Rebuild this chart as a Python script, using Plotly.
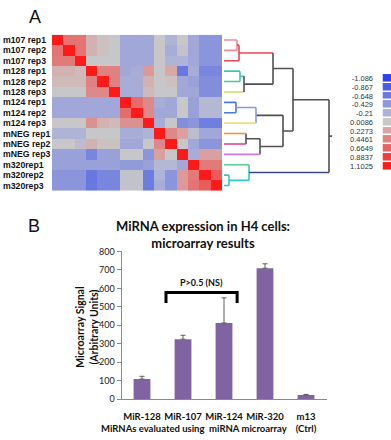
import plotly.graph_objects as go

# ---------------- Data: panel A ----------------
row_labels = ["m107 rep1", "m107 rep2", "m107 rep3",
              "m128 rep1", "m128 rep2", "m128 rep3",
              "m124 rep1", "m124 rep2", "m124 rep3",
              "mNEG rep1", "mNEG rep2", "mNEG rep3",
              "m320rep1", "m320rep2", "m320rep3"]

corr = [
    [1.10, 0.55, 0.55, 0.15, 0.05, 0.00, -0.30, -0.30, -0.30, 0.00, -0.20, 0.00, -0.30, -0.45, -0.45],
    [0.55, 1.10, 0.55, 0.15, 0.05, 0.00, -0.30, -0.30, -0.30, 0.00, -0.25, -0.05, -0.30, -0.45, -0.45],
    [0.50, 0.50, 1.10, 0.00, 0.00, 0.00, -0.30, -0.30, -0.30, 0.00, -0.20, -0.20, -0.30, -0.45, -0.45],
    [0.15, 0.15, 0.10, 1.10, 0.45, 0.45, -0.30, -0.25, 0.30, 0.00, 0.20, -0.65, -0.25, -0.55, -0.55],
    [0.10, 0.10, 0.10, 0.45, 1.10, 0.45, -0.25, -0.25, 0.15, 0.00, 0.05, -0.30, -0.35, -0.50, -0.50],
    [0.00, 0.00, 0.00, 0.40, 0.40, 1.10, -0.25, -0.25, 0.10, 0.00, 0.00, -0.30, -0.30, -0.50, -0.50],
    [-0.30, -0.30, -0.30, -0.30, -0.30, -0.30, 1.10, 0.60, 0.40, -0.25, -0.30, 0.00, -0.35, -0.15, -0.15],
    [-0.30, -0.30, -0.30, -0.30, -0.30, -0.30, 0.60, 1.10, 0.40, -0.30, -0.30, 0.00, -0.35, -0.15, -0.15],
    [0.00, 0.00, 0.00, 0.35, 0.15, 0.10, 0.35, 0.35, 1.10, -0.25, 0.00, -0.50, -0.45, -0.60, -0.60],
    [-0.20, -0.20, -0.20, 0.00, 0.00, 0.00, -0.25, -0.25, -0.20, 1.10, 0.40, 0.25, -0.10, -0.30, -0.30],
    [0.00, 0.00, -0.10, 0.15, 0.05, 0.05, -0.30, -0.30, 0.00, 0.40, 1.10, 0.00, -0.30, -0.45, -0.45],
    [-0.35, -0.35, -0.35, -0.55, -0.35, -0.35, 0.00, 0.00, -0.45, 0.25, 0.00, 1.10, -0.25, 0.25, 0.25],
    [-0.35, -0.35, -0.35, -0.35, -0.35, -0.35, -0.40, -0.40, -0.35, -0.15, -0.15, -0.30, 1.10, 0.50, 0.50],
    [-0.45, -0.45, -0.45, -0.65, -0.55, -0.55, -0.05, -0.05, -0.62, -0.20, -0.45, 0.30, 0.50, 1.10, 0.70],
    [-0.45, -0.45, -0.45, -0.65, -0.55, -0.55, -0.05, -0.05, -0.62, -0.25, -0.45, 0.30, 0.55, 0.70, 1.10],
]

legend_values = [-1.086, -0.867, -0.648, -0.429, -0.21, 0.0086, 0.2273, 0.4461, 0.6649, 0.8837, 1.1025]
legend_labels = ["-1.086", "-0.867", "-0.648", "-0.429", "-0.21", "0.0086",
                 "0.2273", "0.4461", "0.6649", "0.8837", "1.1025"]
legend_colors = ["#2b3ff5", "#4a5ce8", "#6878e0", "#8e98da", "#aeb2d6", "#c8c8c8",
                 "#d8a4a4", "#e08282", "#e86262", "#f23c3c", "#ff1a1a"]

# Dendrogram linkage: (left child, right child, height, left colour, right colour, vertical colour)
# Leaves are 0..14, merged nodes get ids 15, 16, ...
DK = "#505050"
linkage = [
    (0, 1, 13, "#f4889a", "#f4889a", "#f4889a"),    # 15
    (15, 2, 15, "#ee4455", "#ee4455", "#ee4455"),   # 16
    (3, 4, 16, "#3cc8b4", "#3cc8b4", "#3cc8b4"),    # 17
    (17, 5, 20, "#3cc8b4", "#d8d860", DK),          # 18
    (16, 18, 49, "#ee4455", DK, DK),                # 19
    (6, 7, 12, "#4a78e8", "#4a78e8", "#4a78e8"),    # 20
    (20, 8, 32, "#8898e0", "#f0e070", "#8898e0"),   # 21
    (9, 10, 22, "#f0902a", "#e03c8c", DK),          # 22
    (22, 11, 36, DK, "#c878e8", DK),                # 23
    (21, 23, 59, DK, DK, DK),                       # 24
    (19, 24, 69, DK, DK, DK),                       # 25
    (13, 14, 5, "#30c8c8", "#30c8c8", "#30c8c8"),   # 26
    (12, 26, 25, "#60c890", "#30c8c8", "#30c8c8"),  # 27
    (25, 27, 105, DK, "#3a4a80", DK),               # 28
]
root_stub = 3

# ---------------- Data: panel B ----------------
bar_cats = ["MiR-128", "MiR-107", "MiR-124", "MiR-320", "m13<br>(Ctrl)"]
bar_vals = [109, 325, 413, 709, 23]
bar_err = [15, 21, 136, 24, 3]
bracket_from, bracket_to = 0.585, 2.32
bracket_low, bracket_high = 521, 577

# ---------------- helpers ----------------
W, H = 391, 440
def px_x(a, b):
    return [a / W, b / W]
def px_y(top, bottom):
    return [1 - bottom / H, 1 - top / H]

n = len(row_labels)
cs = [[i / (len(legend_colors) - 1), c] for i, c in enumerate(legend_colors)]
zmin, zmax = legend_values[0], legend_values[-1]

fig = go.Figure()

# heatmap
fig.add_trace(go.Heatmap(z=corr, x=list(range(n)), y=list(range(n)), colorscale=cs,
                         zmin=zmin, zmax=zmax, showscale=False, hoverinfo="z",
                         xaxis="x", yaxis="y"))

# dendrogram
ypos = {i: float(i) for i in range(n)}
hpos = {i: 0.0 for i in range(n)}
segs = {}
for k, (a, b, h, ca, cb, cv) in enumerate(linkage):
    node = n + k
    for child, col in ((a, ca), (b, cb)):
        segs.setdefault(col, []).extend([(hpos[child], ypos[child]), (h, ypos[child]), None])
    segs.setdefault(cv, []).extend([(h, ypos[a]), (h, ypos[b]), None])
    ypos[node] = (ypos[a] + ypos[b]) / 2
    hpos[node] = h
root = n + len(linkage) - 1
segs.setdefault(DK, []).extend([(hpos[root], ypos[root]), (hpos[root] + root_stub, ypos[root]), None])
for col, pts in segs.items():
    xs = [p[0] if p else None for p in pts]
    ys = [p[1] if p else None for p in pts]
    fig.add_trace(go.Scatter(x=xs, y=ys, mode="lines", line=dict(color=col, width=1.6),
                             hoverinfo="skip", showlegend=False, xaxis="x2", yaxis="y2"))

# colour key
fig.add_trace(go.Heatmap(z=[[v] for v in legend_values], x=[0], y=list(range(len(legend_values))),
                         colorscale=cs, zmin=zmin, zmax=zmax, showscale=False, ygap=1.5,
                         xaxis="x3", yaxis="y3"))

# bars
fig.add_trace(go.Bar(x=list(range(len(bar_cats))), y=bar_vals, width=0.41,
                     marker=dict(color="#8064a2", line=dict(width=0)),
                     error_y=dict(type="data", array=bar_err, arrayminus=[0] * len(bar_err),
                                  symmetric=False, color="#606060", thickness=1, width=2.5),
                     showlegend=False, xaxis="x4", yaxis="y4"))

hid = dict(showgrid=False, zeroline=False, showticklabels=False, ticks="", showline=False)
fig.update_layout(
    width=W, height=H, margin=dict(l=0, r=0, t=0, b=0),
    paper_bgcolor="white", plot_bgcolor="white", showlegend=False,
    xaxis=dict(domain=px_x(52, 222), range=[-0.5, n - 0.5], anchor="y", **hid),
    yaxis=dict(domain=px_y(29.5, 189.5), range=[n - 0.5, -0.5], anchor="x", **hid),
    xaxis2=dict(domain=px_x(222, 345), range=[-2, 121], anchor="y2", **hid),
    yaxis2=dict(domain=px_y(29.5, 189.5), range=[n - 0.5, -0.5], anchor="x2", **hid),
    xaxis3=dict(domain=px_x(382.5, 391), range=[-0.5, 0.5], anchor="y3", **hid),
    yaxis3=dict(domain=px_y(69.8, 168.8), range=[len(legend_values) - 0.5, -0.5], anchor="x3",
                showgrid=False, zeroline=False, showline=False,
                tickvals=list(range(len(legend_values))), ticktext=legend_labels,
                ticks="outside", ticklen=7, tickcolor="rgba(0,0,0,0)",
                tickfont=dict(family="Liberation Sans, Arial", size=7.5, color="#333")),
    xaxis4=dict(domain=px_x(121.5, 326.5), range=[-0.5, len(bar_cats) - 0.5], anchor="y4",
                tickvals=list(range(len(bar_cats))), ticktext=bar_cats, tickangle=0,
                showgrid=False, zeroline=False, showline=True, linecolor="#8a8a8a", linewidth=1,
                ticks="outside", ticklen=8, tickcolor="rgba(0,0,0,0)",
                tickfont=dict(family="Lato", size=9.5, color="#111", weight="bold")),
    yaxis4=dict(domain=px_y(251.7, 403.3), range=[0, 800], tickvals=list(range(0, 801, 100)), anchor="x4",
                showgrid=False, zeroline=False, showline=True, linecolor="#8a8a8a", linewidth=1,
                ticks="outside", ticklen=4, tickcolor="#8a8a8a",
                tickfont=dict(family="Lato", size=9, color="#222")),
)

ann = []
for i, lab in enumerate(row_labels):
    ann.append(dict(text=lab, xref="paper", yref="y", x=1 / W, y=i, xanchor="left", yanchor="middle",
                    showarrow=False, font=dict(family="Liberation Sans, Arial", size=8.7, color="#111", weight="bold")))
ann.append(dict(text="A", xref="paper", yref="paper", x=27 / W, y=1 - 11.5 / H, xanchor="left", yanchor="middle",
                showarrow=False, font=dict(family="Liberation Sans, Arial", size=18, color="#111")))
ann.append(dict(text="B", xref="paper", yref="paper", x=26 / W, y=1 - 226 / H, xanchor="left", yanchor="middle",
                showarrow=False, font=dict(family="Liberation Sans, Arial", size=18, color="#111")))
ann.append(dict(text="MiRNA expression in H4 cells:<br>microarray results", xref="paper", yref="paper",
                x=203 / W, y=1 - 234 / H, xanchor="center", yanchor="middle", showarrow=False,
                font=dict(family="Lato", size=13, color="#111", weight="bold")))
ann.append(dict(text="<b>Microarray Signal<br>(Arbitrary Units)</b>", xref="paper", yref="paper",
                x=87 / W, y=1 - 330 / H, xanchor="center", yanchor="middle", textangle=-90, showarrow=False,
                font=dict(family="Lato", size=10.5, color="#111")))
ann.append(dict(text="MiRNAs evaluated using  miRNA microarray", xref="paper", yref="paper",
                x=194 / W, y=1 - 433 / H, xanchor="center", yanchor="middle", showarrow=False,
                font=dict(family="Lato", size=9.5, color="#111", weight="bold")))
ann.append(dict(text="P>0.5 (NS)", xref="x4", yref="y4", x=(bracket_from + bracket_to) / 2, y=630,
                xanchor="center", yanchor="middle", showarrow=False,
                font=dict(family="Lato", size=9, color="#111", weight="bold")))
fig.update_layout(annotations=ann)

fig.add_shape(type="path", xref="x4", yref="y4",
              path=f"M {bracket_from},{bracket_low} L {bracket_from},{bracket_high} "
                   f"L {bracket_to},{bracket_high} L {bracket_to},{bracket_low}",
              line=dict(color="black", width=3))

fig.write_html("out.html")
